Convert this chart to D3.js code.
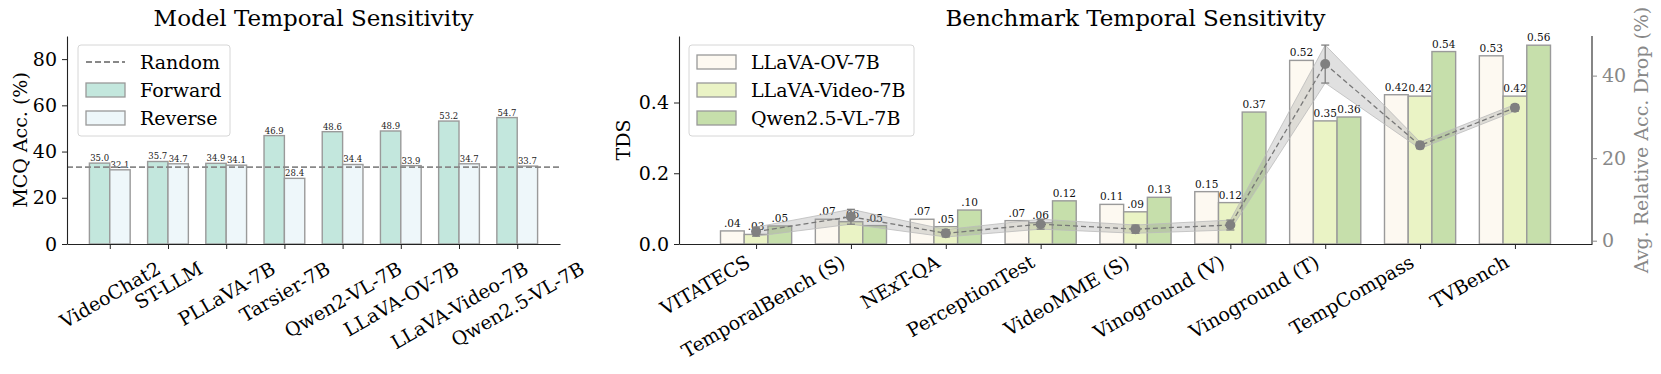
<!DOCTYPE html>
<html>
<head>
<meta charset="utf-8">
<script src="https://cdn.jsdelivr.net/npm/d3@7"></script>
<style>
  body { margin: 0; background: #fff; }
  svg text { font-family: 'DejaVu Serif', serif; }
</style>
</head>
<body>
<script>
// left panel: model accuracy forward vs reverse
const models = ['VideoChat2', 'ST-LLM', 'PLLaVA-7B', 'Tarsier-7B', 'Qwen2-VL-7B', 'LLaVA-OV-7B', 'LLaVA-Video-7B', 'Qwen2.5-VL-7B'];
const forward = [35.0, 35.7, 34.9, 46.9, 48.6, 48.9, 53.2, 54.7];
const reverse = [32.1, 34.7, 34.1, 28.4, 34.4, 33.9, 34.7, 33.7];
const randomLevel = 33.3;
const accTicks = [0, 20, 40, 60, 80];

// right panel: TDS per benchmark + avg relative accuracy drop
const benchmarks = ['VITATECS', 'TemporalBench (S)', 'NExT-QA', 'PerceptionTest', 'VideoMME (S)', 'Vinoground (V)', 'Vinoground (T)', 'TempCompass', 'TVBench'];
const tdsOV    = [0.037, 0.070, 0.070, 0.066, 0.112, 0.148, 0.519, 0.422, 0.532];
const tdsVideo = [0.027, 0.063, 0.049, 0.060, 0.091, 0.117, 0.348, 0.418, 0.418];
const tdsQwen  = [0.051, 0.052, 0.096, 0.122, 0.132, 0.373, 0.359, 0.544, 0.562];
const dropMean = [2.2, 5.8, 1.8, 4.0, 2.8, 3.8, 42.8, 23.1, 32.2];
const dropStd  = [1.1, 1.8, 0.9, 1.2, 1.0, 1.2, 4.6, 0.8, 0.8];
const tdsTicks = [0, 0.2, 0.4];
const dropTicks = [0, 20, 40];
const tdsSeries = ['LLaVA-OV-7B', 'LLaVA-Video-7B', 'Qwen2.5-VL-7B'];

const W = 1661, H = 374;
const FONT = 19;
const TITLE = 23;

const svg = d3.select('body').append('svg')
  .attr('width', W).attr('height', H)
  .style('background', '#fff');

function styleAxis(g, color = '#222', textColor = '#000'){
  g.attr('font-family', null).attr('font-size', null);
  g.select('.domain').attr('stroke', '#222').attr('stroke-width', 1.1);
  g.selectAll('.tick line').attr('stroke', color).attr('stroke-width', 1);
  g.selectAll('.tick text').attr('fill', textColor).attr('font-size', FONT);
  return g;
}

// right-aligned rotated labels (benchmark panel)
function rotateLabelsEnd(g){
  g.selectAll('.tick text')
    .attr('x', 0).attr('y', 0).attr('dy', null)
    .attr('text-anchor', 'end')
    .attr('transform', 'translate(-5, 22) rotate(-30)');
}

// centred rotated labels, box top fixed below the axis (model panel)
function rotateLabelsCenter(g, topGap){
  g.selectAll('.tick text').each(function(){
    const len = this.getComputedTextLength();
    const boxH = len * 0.5 + FONT * 0.95 * 0.866;
    d3.select(this)
      .attr('x', 0).attr('y', 0).attr('dy', '0.35em')
      .attr('text-anchor', 'middle')
      .attr('transform', `translate(0, ${topGap + boxH / 2}) rotate(-30)`);
  });
}

function legend(x, y, w, h, rows){
  const lg = svg.append('g').attr('transform', `translate(${x}, ${y})`);
  lg.append('rect')
    .attr('width', w).attr('height', h).attr('rx', 3)
    .attr('fill', '#fff').attr('fill-opacity', 0.8)
    .attr('stroke', '#d6d6d6').attr('stroke-width', 1);
  rows.forEach((r, i) => {
    const cy = 17 + i * 28;
    if(r.dash){
      lg.append('line')
        .attr('x1', 8).attr('x2', 47).attr('y1', cy).attr('y2', cy)
        .attr('stroke', '#888').attr('stroke-width', 1.8).attr('stroke-dasharray', '6,3');
    } else {
      lg.append('rect')
        .attr('x', 8).attr('y', cy - 7).attr('width', 39).attr('height', 14)
        .attr('fill', r.fill).attr('stroke', '#999').attr('stroke-width', 1.3);
    }
    lg.append('text')
      .attr('x', 62).attr('y', cy).attr('dy', '0.36em')
      .attr('font-size', FONT).text(r.label);
  });
}

/* ---------- left chart ---------- */
function drawLeft(){
  const left = 67, right = 560, top = 36, bottom = 244;
  const barW = 0.35;
  const x = d3.scaleLinear().domain([-0.735, models.length - 1 + 0.735]).range([left, right]);
  const y = d3.scaleLinear().domain([0, 90]).range([bottom, top]);
  const g = svg.append('g');

  const series = [
    {vals: forward, off: -barW / 2, fill: '#c3e7dd'},
    {vals: reverse, off: barW / 2, fill: '#eef7fa'}
  ];
  series.forEach(s => {
    g.selectAll(null).data(s.vals).enter().append('rect')
      .attr('x', (d, i) => x(i + s.off - barW / 2))
      .attr('width', x(barW) - x(0))
      .attr('y', d => y(d))
      .attr('height', d => y(0) - y(d))
      .attr('fill', s.fill)
      .attr('stroke', '#9a9a9a').attr('stroke-width', 1.4);
    g.selectAll(null).data(s.vals).enter().append('text')
      .attr('x', (d, i) => x(i + s.off))
      .attr('y', d => y(d) - 2)
      .attr('text-anchor', 'middle')
      .attr('font-size', 8.5).attr('fill', '#222')
      .text(d => d.toFixed(1));
  });

  g.append('line')
    .attr('x1', left).attr('x2', right)
    .attr('y1', y(randomLevel)).attr('y2', y(randomLevel))
    .attr('stroke', '#888').attr('stroke-width', 1.8).attr('stroke-dasharray', '6,3');

  const xa = svg.append('g').attr('transform', `translate(0, ${bottom})`)
    .call(d3.axisBottom(x).tickValues(d3.range(models.length)).tickFormat(i => models[i]).tickSize(5).tickSizeOuter(0).tickPadding(5));
  styleAxis(xa);
  rotateLabelsCenter(xa, 15);

  const ya = svg.append('g').attr('transform', `translate(${left}, 0)`)
    .call(d3.axisLeft(y).tickValues(accTicks).tickSize(5).tickSizeOuter(0).tickPadding(5));
  styleAxis(ya);

  svg.append('text')
    .attr('transform', `translate(20, ${(top + bottom) / 2}) rotate(-90)`)
    .attr('text-anchor', 'middle').attr('dy', '0.36em')
    .attr('font-size', FONT).text('MCQ Acc. (%)');

  svg.append('text')
    .attr('x', (left + right) / 2).attr('y', 26)
    .attr('text-anchor', 'middle').attr('font-size', TITLE)
    .text('Model Temporal Sensitivity');

  legend(78, 45, 152, 91, [
    {label: 'Random', dash: true},
    {label: 'Forward', fill: '#c3e7dd'},
    {label: 'Reverse', fill: '#eef7fa'}
  ]);
}

/* ---------- right chart ---------- */
function drawRight(){
  const left = 679, right = 1592, top = 36, bottom = 244;
  const barW = 0.25;
  const n = benchmarks.length;
  const x = d3.scaleLinear().domain([-0.8125, n - 1 + 0.8125]).range([left, right]);
  const y = d3.scaleLinear().domain([0, 0.588]).range([bottom, top]);
  const y2 = d3.scaleLinear().domain([-0.8, 49.6]).range([bottom, top]);
  const g = svg.append('g');

  const fills = ['#fdf9f1', '#eaf3c5', '#c6dfab'];
  const series = [tdsOV, tdsVideo, tdsQwen];
  const fmt = v => v < 0.1 ? v.toFixed(2).slice(1) : v.toFixed(2);

  series.forEach((vals, k) => {
    const off = (k - 1) * barW;
    g.selectAll(null).data(vals).enter().append('rect')
      .attr('x', (d, i) => x(i + off - barW / 2))
      .attr('width', x(barW) - x(0))
      .attr('y', d => y(d))
      .attr('height', d => y(0) - y(d))
      .attr('fill', fills[k])
      .attr('stroke', '#9a9a9a').attr('stroke-width', 1.4);
  });
  series.forEach((vals, k) => {
    const off = (k - 1) * barW;
    g.selectAll(null).data(vals).enter().append('text')
      .attr('x', (d, i) => x(i + off))
      .attr('y', d => y(d) - 4)
      .attr('text-anchor', 'middle')
      .attr('font-size', 10.5).attr('fill', '#111')
      .text(fmt);
  });

  // avg drop on the twin axis
  const area = d3.area()
    .x((d, i) => x(i))
    .y0((d, i) => y2(d - dropStd[i]))
    .y1((d, i) => y2(d + dropStd[i]));
  g.append('path').datum(dropMean)
    .attr('d', area).attr('fill', '#999').attr('fill-opacity', 0.3)
    .attr('stroke', '#bbb').attr('stroke-width', 0.8);

  const line = d3.line().x((d, i) => x(i)).y(d => y2(d));
  g.append('path').datum(dropMean)
    .attr('d', line).attr('fill', 'none')
    .attr('stroke', '#777').attr('stroke-width', 1.3).attr('stroke-dasharray', '5,3');

  dropMean.forEach((m, i) => {
    const cx = x(i), lo = y2(m - dropStd[i]), hi = y2(m + dropStd[i]);
    g.append('line').attr('x1', cx).attr('x2', cx).attr('y1', lo).attr('y2', hi)
      .attr('stroke', '#808080').attr('stroke-width', 1.3);
    [lo, hi].forEach(yy => g.append('line')
      .attr('x1', cx - 4).attr('x2', cx + 4).attr('y1', yy).attr('y2', yy)
      .attr('stroke', '#808080').attr('stroke-width', 1.3));
  });
  g.selectAll(null).data(dropMean).enter().append('circle')
    .attr('cx', (d, i) => x(i)).attr('cy', d => y2(d)).attr('r', 5)
    .attr('fill', '#808080');

  const xa = svg.append('g').attr('transform', `translate(0, ${bottom})`)
    .call(d3.axisBottom(x).tickValues(d3.range(n)).tickFormat(i => benchmarks[i]).tickSize(5).tickSizeOuter(0).tickPadding(5));
  styleAxis(xa);
  rotateLabelsEnd(xa);

  const ya = svg.append('g').attr('transform', `translate(${left}, 0)`)
    .call(d3.axisLeft(y).tickValues(tdsTicks).tickFormat(d3.format('.1f')).tickSize(5).tickSizeOuter(0).tickPadding(5));
  styleAxis(ya);

  const ya2 = svg.append('g').attr('transform', `translate(${right}, 0)`)
    .call(d3.axisRight(y2).tickValues(dropTicks).tickSize(5).tickSizeOuter(0).tickPadding(5));
  styleAxis(ya2, '#888', '#888');
  ya2.select('.domain').attr('d', `M0,${bottom}V${top}`);

  svg.append('text')
    .attr('transform', `translate(623, ${(top + bottom) / 2}) rotate(-90)`)
    .attr('text-anchor', 'middle').attr('dy', '0.36em')
    .attr('font-size', FONT).text('TDS');

  svg.append('text')
    .attr('transform', `translate(1641, ${(top + bottom) / 2}) rotate(-90)`)
    .attr('text-anchor', 'middle').attr('dy', '0.36em')
    .attr('font-size', FONT).attr('fill', '#888').text('Avg. Relative Acc. Drop (%)');

  svg.append('text')
    .attr('x', (left + right) / 2).attr('y', 26)
    .attr('text-anchor', 'middle').attr('font-size', TITLE)
    .text('Benchmark Temporal Sensitivity');

  legend(689, 45, 225, 91, tdsSeries.map((s, k) => ({label: s, fill: fills[k]})));
}

drawLeft();
drawRight();
</script>
</body>
</html>
